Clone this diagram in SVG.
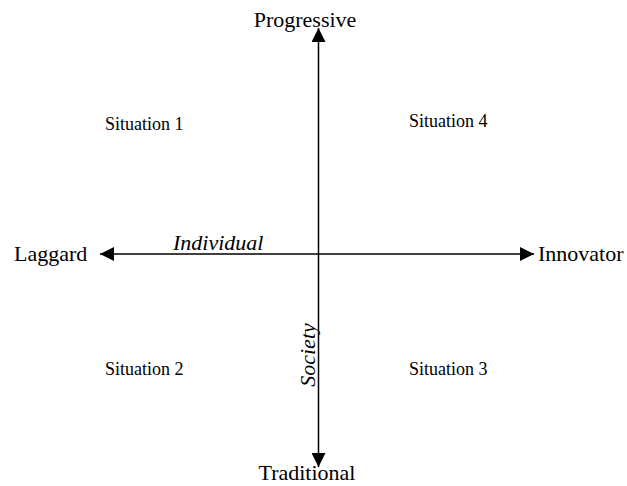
<svg xmlns="http://www.w3.org/2000/svg" width="627" height="486" viewBox="0 0 627 486">
<style>
text{font-family:"Liberation Serif","Times New Roman",serif;fill:#000}
.ax{font-size:22px}
.it{font-size:22px;font-style:italic}
.sit{font-size:18px}
line{stroke:#000;stroke-width:1.5}
</style>
<defs>
<marker id="ah" markerWidth="14" markerHeight="14" refX="14" refY="7" orient="auto" markerUnits="userSpaceOnUse" viewBox="0 0 14 14">
<path d="M0,0 L14,7 L0,14 z" fill="#000"/>
</marker>
</defs>
<rect width="627" height="486" fill="#fff"/>
<g id="connectors">
<line x1="318.5" y1="254" x2="318.5" y2="28" marker-end="url(#ah)"/>
<line x1="318.5" y1="254" x2="318.5" y2="467" marker-end="url(#ah)"/>
<line x1="318.5" y1="254" x2="100" y2="254" marker-end="url(#ah)"/>
<line x1="318.5" y1="254" x2="534" y2="254" marker-end="url(#ah)"/>
</g>
<g id="progressive"><text class="ax" x="305" y="27" text-anchor="middle">Progressive</text></g>
<g id="traditional"><text class="ax" x="307" y="480" text-anchor="middle">Traditional</text></g>
<g id="laggard"><text class="ax" x="14" y="261">Laggard</text></g>
<g id="innovator"><text class="ax" x="538" y="261">Innovator</text></g>
<g id="individual"><text class="it" x="173" y="250">Individual</text></g>
<g id="society"><text class="it" transform="translate(315,355) rotate(-90)" text-anchor="middle">Society</text></g>
<g id="situation1"><text class="sit" x="105" y="130">Situation 1</text></g>
<g id="situation4"><text class="sit" x="409" y="127">Situation 4</text></g>
<g id="situation2"><text class="sit" x="105" y="375">Situation 2</text></g>
<g id="situation3"><text class="sit" x="409" y="375">Situation 3</text></g>
</svg>
